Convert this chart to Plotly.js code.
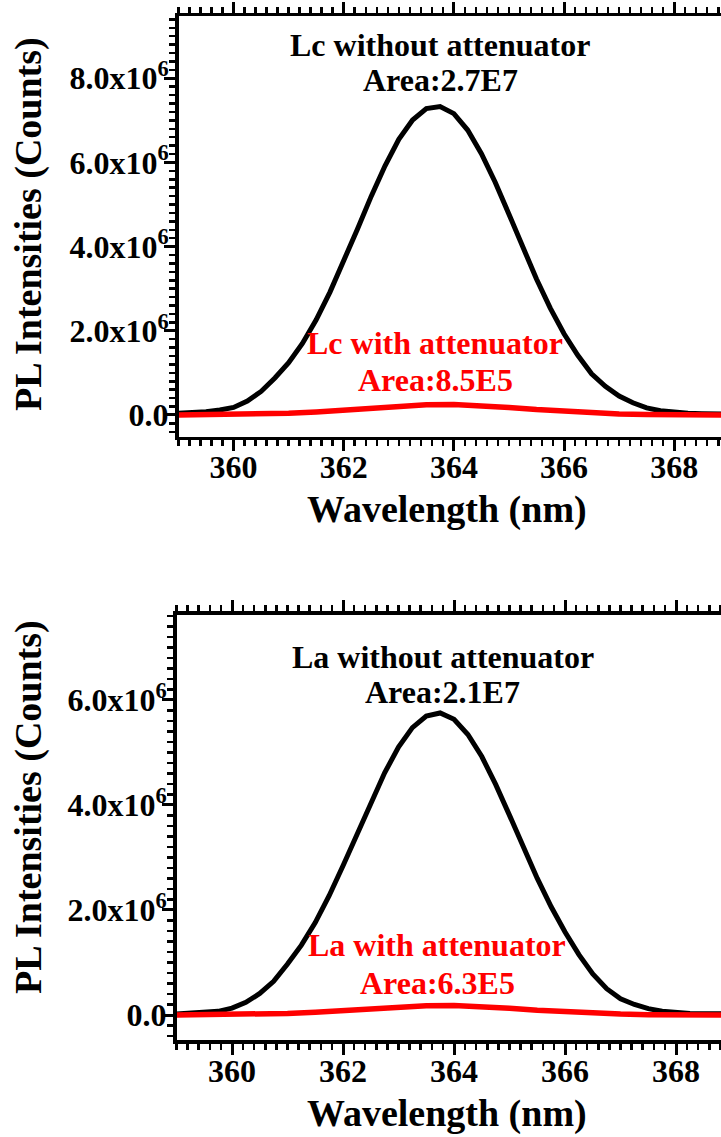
<!DOCTYPE html>
<html>
<head>
<meta charset="utf-8">
<script src="https://cdn.plot.ly/plotly-3.0.1.min.js"></script>
<style>html,body{margin:0;padding:0;background:#fff;}#chart{width:721px;height:1137px;}</style>
</head>
<body>
<div id="chart"></div>
<script>
// Wavelength grid (nm) for the unattenuated spectra
const wavelength = [359.00,359.25,359.50,359.75,360.00,360.25,360.50,360.75,361.00,361.25,361.50,361.75,362.00,362.25,362.50,362.75,363.00,363.25,363.50,363.75,364.00,364.25,364.50,364.75,365.00,365.25,365.50,365.75,366.00,366.25,366.50,366.75,367.00,367.25,367.50,367.75,368.00,368.25,368.50,368.75,369.00];
// Lc without attenuator (counts)
const lcWithout = [0.04e6,0.05e6,0.08e6,0.12e6,0.18e6,0.33e6,0.56e6,0.88e6,1.24e6,1.70e6,2.26e6,2.92e6,3.65e6,4.42e6,5.20e6,5.92e6,6.55e6,7.01e6,7.28e6,7.33e6,7.16e6,6.77e6,6.21e6,5.53e6,4.77e6,3.98e6,3.23e6,2.54e6,1.93e6,1.42e6,0.98e6,0.68e6,0.45e6,0.29e6,0.17e6,0.10e6,0.06e6,0.04e6,0.03e6,0.02e6,0.02e6];
// La without attenuator (counts)
const laWithout = [0.02e6,0.03e6,0.04e6,0.07e6,0.13e6,0.24e6,0.41e6,0.64e6,0.97e6,1.33e6,1.76e6,2.27e6,2.84e6,3.44e6,4.04e6,4.61e6,5.10e6,5.47e6,5.69e6,5.75e6,5.63e6,5.34e6,4.92e6,4.39e6,3.80e6,3.20e6,2.60e6,2.06e6,1.58e6,1.15e6,0.78e6,0.50e6,0.31e6,0.20e6,0.12e6,0.07e6,0.045e6,0.03e6,0.025e6,0.02e6,0.02e6];
// Wavelength grid (nm) for the attenuated spectra
const wavelengthAtt = [359.0,359.5,360.0,360.5,361.0,361.5,362.0,362.5,363.0,363.5,364.0,364.5,365.0,365.5,366.0,366.5,367.0,367.5,368.0,368.5,369.0];
// Lc with attenuator (counts)
const lcWith = [0.001e6,0.003e6,0.009e6,0.020e6,0.041e6,0.073e6,0.118e6,0.169e6,0.216e6,0.245e6,0.248e6,0.223e6,0.179e6,0.128e6,0.082e6,0.046e6,0.023e6,0.010e6,0.004e6,0.001e6,0.0];
// La with attenuator (counts)
const laWith = [0.001e6,0.002e6,0.006e6,0.014e6,0.030e6,0.053e6,0.085e6,0.122e6,0.156e6,0.176e6,0.179e6,0.161e6,0.129e6,0.092e6,0.059e6,0.033e6,0.017e6,0.007e6,0.003e6,0.001e6,0.0];

// Tick labels
const xTickVals = [360, 362, 364, 366, 368];
const xTickText = ['360', '362', '364', '366', '368'];
const yTickValsTop = [0, 2e6, 4e6, 6e6, 8e6];
const yTickTextTop = ['0.0', '2.0x10<sup>6</sup>', '4.0x10<sup>6</sup>', '6.0x10<sup>6</sup>', '8.0x10<sup>6</sup>'];
const yTickValsBottom = [0, 2e6, 4e6, 6e6];
const yTickTextBottom = ['0.0', '2.0x10<sup>6</sup>', '4.0x10<sup>6</sup>', '6.0x10<sup>6</sup>'];

const FONT = 'Liberation Serif';
const W = 721, H = 1137;
const px = v => v / W;
const py = v => 1 - v / H;

const traces = [
  {x: wavelength, y: lcWithout, xaxis: 'x', yaxis: 'y', mode: 'lines', line: {color: '#000000', width: 5}, name: 'Lc without attenuator'},
  {x: wavelengthAtt, y: lcWith, xaxis: 'x', yaxis: 'y', mode: 'lines', line: {color: '#ff0000', width: 5.5}, name: 'Lc with attenuator'},
  {x: wavelength, y: laWithout, xaxis: 'x2', yaxis: 'y2', mode: 'lines', line: {color: '#000000', width: 5}, name: 'La without attenuator'},
  {x: wavelengthAtt, y: laWith, xaxis: 'x2', yaxis: 'y2', mode: 'lines', line: {color: '#ff0000', width: 5.5}, name: 'La with attenuator'}
];

const tickFont = {family: FONT, size: 32, color: '#000', weight: 'bold'};

function xAxis(domainLeft, rangeEnd, anchor) {
  return {
    domain: [px(domainLeft), 1], range: [359, rangeEnd], anchor: anchor,
    showgrid: false, zeroline: false, showline: true, linecolor: '#000', linewidth: 3.5,
    mirror: 'allticks', ticks: 'outside', ticklen: 11, tickwidth: 3, tickcolor: '#000',
    tickmode: 'array', tickvals: xTickVals, ticktext: xTickText, tickfont: tickFont,
    ticklabelstandoff: -11,
    minor: {tick0: 359, dtick: 0.2, ticks: 'outside', ticklen: 6, tickwidth: 2.5, tickcolor: '#000', showgrid: false}
  };
}
function yAxis(domain, range, vals, text, anchor) {
  return {
    domain: domain, range: range, anchor: anchor,
    showgrid: false, zeroline: false, showline: true, linecolor: '#000', linewidth: 3.5,
    ticks: 'outside', ticklen: 11, tickwidth: 3, tickcolor: '#000',
    tickmode: 'array', tickvals: vals, ticktext: text, tickfont: tickFont,
    ticklabelstandoff: -11,
    minor: {tick0: 0, dtick: 0.2e6, ticks: 'outside', ticklen: 6, tickwidth: 2.5, tickcolor: '#000', showgrid: false}
  };
}

const annFont = (c) => ({family: FONT, size: 32, color: c, weight: 'bold'});
const titleFont = {family: FONT, size: 38, color: '#000', weight: 'bold'};

const layout = {
  width: W, height: H,
  margin: {l: 0, r: 0, t: 0, b: 0},
  paper_bgcolor: '#fff', plot_bgcolor: '#fff',
  showlegend: false,
  xaxis: xAxis(178.5, 368.85, 'y'),
  yaxis: yAxis([py(436.5), py(16)], [-0.511e6, 9.48e6], yTickValsTop, yTickTextTop, 'x'),
  xaxis2: xAxis(176.5, 368.81, 'y2'),
  yaxis2: yAxis([py(1040), py(614.5)], [-0.476e6, 7.624e6], yTickValsBottom, yTickTextBottom, 'x2'),
  annotations: [
    {xref: 'x', yref: 'y', x: 363.75, y: 8.79e6, text: 'Lc without attenuator', showarrow: false, font: annFont('#000'), xanchor: 'center', yanchor: 'middle'},
    {xref: 'x', yref: 'y', x: 363.75, y: 7.96e6, text: 'Area:2.7E7', showarrow: false, font: annFont('#000'), xanchor: 'center', yanchor: 'middle'},
    {xref: 'x', yref: 'y', x: 363.66, y: 1.71e6, text: 'Lc with attenuator', showarrow: false, font: annFont('#ff0000'), xanchor: 'center', yanchor: 'middle'},
    {xref: 'x', yref: 'y', x: 363.66, y: 0.83e6, text: 'Area:8.5E5', showarrow: false, font: annFont('#ff0000'), xanchor: 'center', yanchor: 'middle'},
    {xref: 'x2', yref: 'y2', x: 363.8, y: 6.81e6, text: 'La without attenuator', showarrow: false, font: annFont('#000'), xanchor: 'center', yanchor: 'middle'},
    {xref: 'x2', yref: 'y2', x: 363.8, y: 6.15e6, text: 'Area:2.1E7', showarrow: false, font: annFont('#000'), xanchor: 'center', yanchor: 'middle'},
    {xref: 'x2', yref: 'y2', x: 363.7, y: 1.33e6, text: 'La with attenuator', showarrow: false, font: annFont('#ff0000'), xanchor: 'center', yanchor: 'middle'},
    {xref: 'x2', yref: 'y2', x: 363.7, y: 0.61e6, text: 'Area:6.3E5', showarrow: false, font: annFont('#ff0000'), xanchor: 'center', yanchor: 'middle'},
    {xref: 'paper', yref: 'paper', x: px(447), y: py(509), text: 'Wavelength (nm)', showarrow: false, font: titleFont, xanchor: 'center', yanchor: 'middle'},
    {xref: 'paper', yref: 'paper', x: px(447), y: py(1113), text: 'Wavelength (nm)', showarrow: false, font: titleFont, xanchor: 'center', yanchor: 'middle'},
    {xref: 'paper', yref: 'paper', x: px(28), y: py(224), text: 'PL Intensities (Counts)', textangle: -90, showarrow: false, font: titleFont, xanchor: 'center', yanchor: 'middle'},
    {xref: 'paper', yref: 'paper', x: px(28), y: py(807), text: 'PL Intensities (Counts)', textangle: -90, showarrow: false, font: titleFont, xanchor: 'center', yanchor: 'middle'}
  ]
};

Plotly.newPlot('chart', traces, layout, {displayModeBar: false, staticPlot: true});
</script>
</body>
</html>
